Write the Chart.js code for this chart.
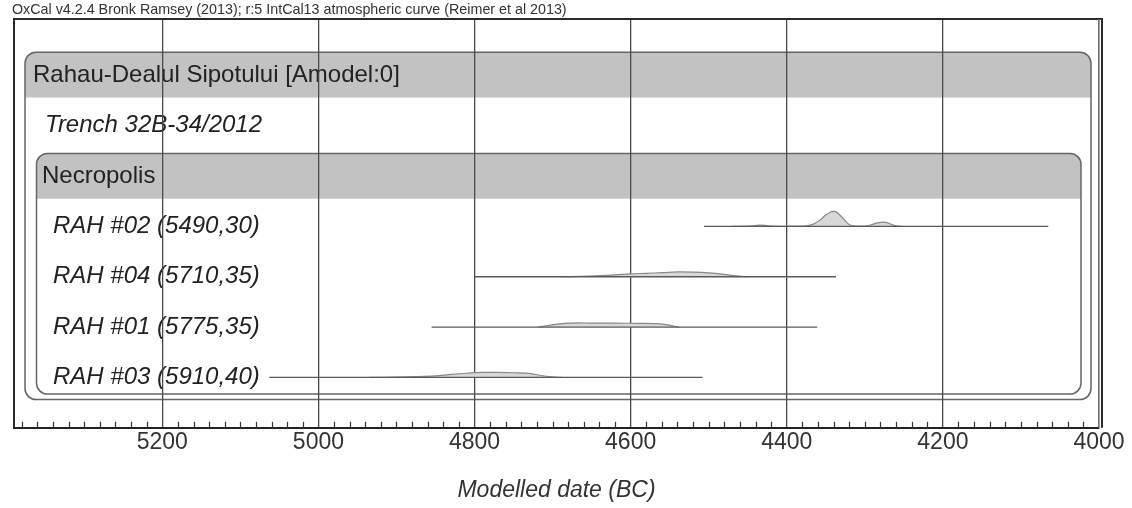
<!DOCTYPE html>
<html><head><meta charset="utf-8">
<script src="https://cdn.jsdelivr.net/npm/chart.js@4.4.1/dist/chart.umd.min.js"></script>
<style>html,body{margin:0;padding:0;background:#fff}#c{display:block}</style>
</head><body>
<canvas id="c" width="1132" height="508"></canvas>
<script>
// ---- data ----
const headerText = 'OxCal v4.2.4 Bronk Ramsey (2013); r:5 IntCal13 atmospheric curve (Reimer et al 2013)';
const groupTitle = 'Rahau-Dealul Sipotului [Amodel:0]';
const trenchLabel = 'Trench 32B-34/2012';
const phaseTitle = 'Necropolis';
const sampleLabels = ['RAH #02 (5490,30)', 'RAH #04 (5710,35)', 'RAH #01 (5775,35)', 'RAH #03 (5910,40)'];
const rangeFrom = [4506, 4800, 4855, 5063];
const rangeTo   = [4065, 4337, 4361, 4508];
const rah02Years   = [4470, 4445, 4436, 4428, 4418, 4405, 4385, 4375, 4366, 4358, 4350, 4344, 4340, 4336, 4330, 4325, 4320, 4314, 4305, 4296, 4288, 4282, 4276, 4270, 4263, 4252];
const rah02Density = [0, 0.03, 0.08, 0.07, 0.02, 0.01, 0.02, 0.04, 0.15, 0.4, 0.75, 0.96, 1.0, 0.93, 0.66, 0.36, 0.13, 0.03, 0.02, 0.06, 0.17, 0.25, 0.28, 0.22, 0.08, 0];
const rah04Years   = [4690, 4665, 4640, 4620, 4600, 4580, 4560, 4540, 4520, 4500, 4480, 4465, 4450];
const rah04Density = [0, 0.03, 0.07, 0.12, 0.19, 0.23, 0.27, 0.32, 0.31, 0.26, 0.16, 0.06, 0];
const rah01Years   = [4718, 4706, 4692, 4675, 4650, 4620, 4590, 4565, 4552, 4545, 4538];
const rah01Density = [0, 0.1, 0.22, 0.27, 0.27, 0.26, 0.25, 0.23, 0.15, 0.06, 0];
const rah03Years   = [4935, 4905, 4875, 4850, 4830, 4810, 4790, 4770, 4750, 4730, 4715, 4700, 4688];
const rah03Density = [0, 0.02, 0.05, 0.1, 0.2, 0.28, 0.33, 0.33, 0.31, 0.27, 0.13, 0.04, 0];
const tickYears = [5200, 5000, 4800, 4600, 4400, 4200, 4000];
const axisTitle = 'Modelled date (BC)';

// ---- structure (row indices on the hidden y scale) ----
const GROUP_ROW = 0, TRENCH_ROW = 1, PHASE_ROW = 2, FIRST_SAMPLE_ROW = 3;
const DENSITY_SCALE = 0.3;
const FONT = 'Liberation Sans';

const distYears = [rah02Years, rah04Years, rah01Years, rah03Years];
const distDens = [rah02Density, rah04Density, rah01Density, rah03Density];

const datasets = [];
sampleLabels.forEach((lab, i) => {
  const row = FIRST_SAMPLE_ROW + i;
  datasets.push({
    label: lab + ' range',
    data: [{x: rangeFrom[i], y: row}, {x: rangeTo[i], y: row}],
    borderColor: '#5a5a5a', borderWidth: 1.3, pointRadius: 0, fill: false
  });
  datasets.push({
    label: lab,
    data: distYears[i].map((yr, k) => ({x: yr, y: row - distDens[i][k] * DENSITY_SCALE})),
    borderColor: '#888', borderWidth: 1.2, backgroundColor: '#d8d8d8',
    pointRadius: 0, tension: 0.35, fill: {value: row}
  });
});

function rrPath(ctx, x, y, w, h, r) {
  ctx.beginPath();
  ctx.moveTo(x + r, y);
  ctx.lineTo(x + w - r, y);
  ctx.arcTo(x + w, y, x + w, y + r, r);
  ctx.lineTo(x + w, y + h - r);
  ctx.arcTo(x + w, y + h, x + w - r, y + h, r);
  ctx.lineTo(x + r, y + h);
  ctx.arcTo(x, y + h, x, y + h - r, r);
  ctx.lineTo(x, y + r);
  ctx.arcTo(x, y, x + r, y, r);
  ctx.closePath();
}
function drawBox(ctx, l, r, t, hb, b, rad) {
  rrPath(ctx, l, t, r - l, b - t, rad);
  ctx.fillStyle = '#fff';
  ctx.fill();
  ctx.save();
  ctx.clip();
  ctx.fillStyle = '#c2c2c2';
  ctx.fillRect(l, t, r - l, hb - t);
  ctx.restore();
  rrPath(ctx, l, t, r - l, b - t, rad);
  ctx.strokeStyle = '#666';
  ctx.lineWidth = 1.5;
  ctx.stroke();
}

const oxcalPlugin = {
  id: 'oxcal',
  beforeDraw(chart) {
    const {ctx, chartArea: a, scales: {y}} = chart;
    ctx.save();
    drawBox(ctx, a.left + 11, a.right - 8,
      y.getPixelForValue(GROUP_ROW - 0.46), y.getPixelForValue(GROUP_ROW + 0.44),
      y.getPixelForValue(FIRST_SAMPLE_ROW + sampleLabels.length - 1 + 0.44), 11);
    drawBox(ctx, a.left + 22.5, a.right - 18,
      y.getPixelForValue(PHASE_ROW - 0.45), y.getPixelForValue(PHASE_ROW + 0.45),
      y.getPixelForValue(FIRST_SAMPLE_ROW + sampleLabels.length - 1 + 0.33), 11);
    ctx.fillStyle = '#222';
    ctx.textBaseline = 'middle';
    ctx.textAlign = 'left';
    ctx.font = '24px "' + FONT + '"';
    ctx.fillText(groupTitle, a.left + 19, y.getPixelForValue(GROUP_ROW));
    ctx.fillText(phaseTitle, a.left + 28, y.getPixelForValue(PHASE_ROW));
    ctx.font = 'italic 24px "' + FONT + '"';
    ctx.fillText(trenchLabel, a.left + 31, y.getPixelForValue(TRENCH_ROW));
    sampleLabels.forEach((lab, i) => {
      ctx.fillText(lab, a.left + 39, y.getPixelForValue(FIRST_SAMPLE_ROW + i));
    });
    ctx.fillStyle = '#333';
    ctx.font = '14.3px "' + FONT + '"';
    ctx.textBaseline = 'alphabetic';
    ctx.fillText(headerText, 12, a.top - 5);
    ctx.restore();
  },
  afterDraw(chart) {
    const {ctx, chartArea: a, scales: {x}} = chart;
    ctx.save();
    ctx.strokeStyle = '#333';
    ctx.lineWidth = 1.2;
    for (let v = 4000; v <= x.max; v += 20) {
      if (v % 200 === 0) continue;
      const px = Math.round(x.getPixelForValue(v)) + 0.5;
      ctx.beginPath();
      ctx.moveTo(px, a.bottom);
      ctx.lineTo(px, a.bottom - 6);
      ctx.stroke();
    }
    ctx.strokeStyle = '#2a2a2a';
    ctx.lineWidth = 2;
    ctx.beginPath();
    ctx.moveTo(a.left, a.bottom);
    ctx.lineTo(a.left, a.top);
    ctx.lineTo(a.right + 3, a.top);
    ctx.lineTo(a.right + 3, a.bottom);
    ctx.stroke();
    ctx.strokeStyle = '#888';
    ctx.lineWidth = 1.2;
    ctx.beginPath();
    ctx.moveTo(a.right, a.top);
    ctx.lineTo(a.right, a.bottom);
    ctx.stroke();
    ctx.restore();
  }
};

new Chart(document.getElementById('c'), {
  type: 'line',
  data: {datasets},
  plugins: [oxcalPlugin],
  options: {
    responsive: false,
    animation: false,
    devicePixelRatio: 1,
    layout: {padding: {left: 14, right: 33, top: 19, bottom: 0}},
    plugins: {legend: {display: false}, tooltip: {enabled: false}},
    scales: {
      x: {
        type: 'linear', reverse: true, min: 4000, max: 5390,
        afterBuildTicks: scale => { scale.ticks = tickYears.map(v => ({value: v})); },
        ticks: {
          autoSkip: false, maxRotation: 0,
          padding: 1, color: '#333', font: {family: FONT, size: 23},
          callback: v => String(v)
        },
        grid: {color: '#4a4a4a', lineWidth: 1.3, drawTicks: false},
        border: {display: true, color: '#222', width: 2},
        title: {display: true, text: axisTitle, color: '#333',
          font: {family: FONT, size: 23, style: 'italic'}, padding: {top: 19, bottom: 4}}
      },
      y: {type: 'linear', display: false, reverse: true, min: -1.12, max: 7}
    }
  }
});
</script>
</body></html>
